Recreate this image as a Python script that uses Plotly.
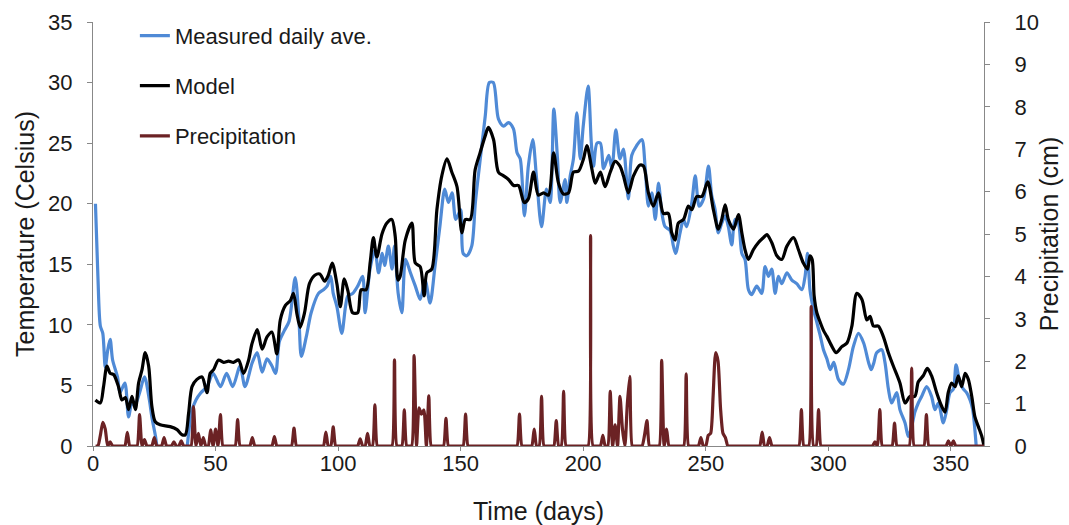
import numpy as np
import plotly.graph_objects as go

# ---- Measured daily average temperature (deg C) ----
measured_day = [1, 2, 3, 4, 5, 6, 7, 8, 10, 11, 13, 14.5, 16, 17, 19, 21, 23, 24, 25.5, 27, 30, 34, 37, 39, 40,
                42, 44, 46.5, 49, 52, 54.5, 57, 60, 62, 65, 67, 69, 71, 73, 74.5, 76, 78, 80, 82.5, 84, 85, 87, 89,
                92, 94, 95.5, 97, 98, 99.5, 101.5, 103, 104, 106, 108, 110, 111, 113, 115, 116.5, 118, 119, 120.5,
                122, 123, 124.5, 126, 127.5, 129.5, 131.5, 133.5, 135.5, 137.5, 139.5, 141.5, 143.5, 145, 146.5,
                148, 150, 151, 152.5, 154.5, 156, 158, 160, 161.7, 163.3, 165.4, 167.5, 169.5, 171.5, 173, 174.3,
                176, 177.6, 179.4, 181, 183, 185, 186.5, 188, 189.5, 190.6, 192.6, 193.3, 194.7, 196, 197.4, 198.8,
                200, 202, 203.3, 204.2, 205.6, 207, 208.3, 210.4, 211.7, 213.3, 215, 216.4, 218.4, 219.8, 221.8,
                223.9, 225.3, 226.6, 228, 229.4, 230.7, 232.1, 233.4, 235.4, 236.8, 237.7, 239.5, 240.9, 242.2,
                244.3, 245.7, 247.3, 249.1, 251.1, 252.4, 253.8, 255.1, 256.5, 257.9, 259.2, 260.6, 261.9, 263.3,
                264.7, 266, 267.4, 268.7, 270.8, 272.8, 274.2, 275.6, 276.9, 278.3, 279.6, 281, 283.1, 285.1,
                287.1, 289.2, 290.5, 291.5, 292.5, 293.9, 295.3, 296.7, 298, 299.4, 300.8, 302.2, 304.1, 306.1,
                308.2, 310.2, 312.3, 314.4, 316.4, 317.5, 318.6, 319.7, 321.8, 323.1, 324.5, 325.8, 327.9, 329.2,
                331.3, 332.6, 334, 335.3, 336.7, 338.1, 340.1, 342.1, 343.5, 344.9, 346.9, 348.3, 349.6, 351,
                352.1, 353.7, 355.1, 356.4, 357.8, 358.9, 359.8, 360.5]
measured_temp = [20.0, 14.0, 9.9, 9.3, 6.5, 7.9, 8.8, 7.1, 5.7, 4.4, 5.2, 2.4, 3.8, 3.3, 4.4, 5.7, 3.8, 2.4, 0.8,
                 -1.0, -2.0, -2.0, -1.5, 1.0, 2.7, 3.8, 4.4, 4.9, 6.0, 4.9, 6.0, 4.9, 6.6, 4.9, 6.9, 7.7, 6.1, 7.2,
                 6.6, 6.0, 8.6, 9.5, 10.3, 13.9, 10.5, 7.4, 9.0, 11.0, 12.6, 12.9, 13.2, 14.0, 12.6, 11.5, 9.3,
                 11.5, 12.4, 12.6, 13.2, 14.0, 11.0, 14.6, 16.2, 14.3, 15.9, 14.9, 16.5, 14.6, 16.5, 12.6, 11.0,
                 15.4, 14.3, 13.2, 12.1, 13.7, 11.8, 14.8, 18.1, 21.2, 20.1, 20.9, 18.7, 19.5, 15.9, 15.7, 16.5,
                 20.1, 23.7, 27.2, 30.0, 30.0, 27.0, 26.4, 26.7, 26.2, 24.2, 23.7, 19.0, 23.1, 25.3, 22.0, 18.1,
                 21.2, 20.1, 27.8, 23.7, 20.1, 22.0, 20.1, 22.3, 23.7, 27.5, 23.7, 26.4, 29.7, 25.0, 23.1, 25.0,
                 25.0, 22.9, 24.0, 22.9, 26.1, 23.7, 24.5, 20.4, 24.0, 24.8, 25.3, 22.9, 19.8, 20.9, 18.7, 21.7,
                 19.2, 18.1, 17.8, 16.5, 15.9, 17.6, 18.7, 18.1, 20.1, 22.3, 19.8, 20.4, 23.1, 20.7, 19.5, 17.6,
                 18.4, 19.0, 18.1, 16.6, 18.7, 18.4, 15.9, 15.4, 12.9, 12.5, 13.2, 12.6, 14.8, 14.0, 14.6, 12.6,
                 14.0, 13.4, 14.3, 13.7, 13.4, 12.9, 14.0, 15.9, 12.9, 11.3, 10.2, 9.1, 7.95, 7.2, 6.3, 6.9, 5.5,
                 5.1, 6.3, 8.2, 9.3, 8.5, 6.9, 6.3, 6.9, 7.7, 7.95, 6.9, 4.7, 3.55, 4.4, 3.0, 1.9, 0.8, 1.6, 2.8,
                 3.55, 4.1, 4.9, 4.1, 3.0, 3.55, 1.9, 3.0, 4.4, 4.7, 6.7, 5.2, 4.7, 4.4, 3.8, 3.0, 1.3, -0.5]

# ---- Model temperature (deg C) ----
model_day = [1, 3, 4.3, 5.7, 7, 8.4, 10.4, 11.8, 13.2, 14.5, 15.9, 17.3, 18.6, 20, 21.3, 22.7, 24, 25.4, 27.4,
             31.5, 34.3, 36.3, 37.7, 39, 40.4, 42.4, 44.5, 46.5, 47.8, 49.2, 51.2, 53.3, 55.3, 57.3, 59.4, 61.4,
             63.5, 64.8, 67, 69, 71, 73, 75, 76.4, 78.5, 80.5, 81.8, 83.2, 84.5, 86.3, 88.3, 90.5, 92.5, 94.5, 96,
             97.6, 99.5, 100.9, 102.5, 104, 105.9, 108, 109.4, 111.4, 113.1, 114.4, 115.8, 117.9, 119.9, 121.9,
             123.3, 124.4, 125.3, 127.4, 130.1, 131.5, 133.5, 135.1, 136.2, 138.2, 140.3, 142.3, 144.4, 146.4,
             148.5, 150.5, 151.9, 153.9, 155.9, 157.9, 160, 161.3, 163.4, 165.4, 167.5, 169.5, 171.6, 173.6,
             175.9, 177.6, 179.7, 181.7, 183.8, 185.8, 187.9, 189.9, 191.9, 194, 196, 198.1, 200.1, 201.5, 203.5,
             204.9, 207, 208.9, 211, 213, 215, 216.4, 218.4, 220.5, 223.2, 224.6, 226.6, 228.6, 230.7, 232.7,
             234.7, 236.1, 237.5, 238.8, 240.9, 242.9, 244.3, 246.3, 248.4, 250.8, 253.1, 255.1, 256.5, 257.9,
             259.2, 261.3, 263.3, 264.7, 266, 267.4, 269.4, 271.5, 273.5, 274.9, 276.9, 279, 281, 283.1, 285.8,
             287.8, 289.8, 291.5, 292.5, 293.4, 294.2, 295.3, 296.7, 298.1, 299.4, 301.5, 303.2, 305.5, 307.6,
             309.6, 311.6, 313.7, 315.7, 317, 318.4, 320.4, 322.4, 324.5, 326.5, 329.2, 331.3, 333.3, 335.3,
             336.7, 338.7, 340.4, 342.1, 344.2, 346.2, 347.6, 348.9, 350.3, 351.7, 353, 354.4, 355.8, 357.1,
             358.5, 359.8, 361.2, 362.6, 363.5]
model_temp = [3.8, 3.55, 4.9, 6.6, 6.0, 5.9, 4.9, 3.8, 4.0, 3.0, 4.1, 3.0, 5.2, 6.3, 7.7, 6.6, 3.3, 2.0, 1.75,
              1.6, 1.35, 0.93, 0.93, 2.7, 4.9, 5.5, 5.7, 4.4, 6.0, 6.3, 7.1, 6.9, 7.0, 6.9, 7.1, 6.0, 7.1, 8.4,
              9.6, 8.0, 9.0, 9.4, 7.6, 10.4, 11.6, 12.0, 12.6, 10.9, 9.8, 11.0, 13.4, 14.1, 14.2, 13.6, 14.1,
              15.1, 13.4, 11.5, 13.8, 12.8, 11.0, 11.0, 12.9, 12.9, 15.2, 17.2, 15.6, 17.5, 18.4, 18.7, 17.3,
              13.7, 14.0, 17.0, 18.4, 15.1, 14.8, 12.4, 14.3, 14.6, 19.5, 22.3, 23.7, 22.6, 21.4, 17.6, 18.7,
              18.7, 22.8, 24.2, 25.6, 26.3, 25.3, 22.6, 22.3, 22.0, 21.5, 21.5, 20.1, 20.4, 22.6, 20.7, 20.9,
              20.7, 24.2, 21.7, 20.8, 20.9, 22.6, 22.7, 23.7, 24.8, 22.9, 21.7, 22.6, 21.4, 22.6, 23.5, 23.1,
              22.3, 20.9, 22.3, 23.2, 23.1, 20.9, 19.8, 20.9, 19.2, 19.2, 17.6, 17.0, 18.4, 18.7, 19.8, 19.5,
              20.6, 20.6, 21.8, 19.5, 17.9, 18.7, 19.9, 18.7, 17.9, 19.1, 17.6, 16.2, 15.4, 16.2, 16.8, 17.2,
              17.45, 16.8, 15.7, 15.4, 16.5, 17.2, 16.2, 15.1, 14.6, 15.7, 15.4, 12.4, 11.0, 10.2, 9.5, 9.05,
              8.2, 7.7, 8.2, 8.5, 9.9, 12.6, 12.1, 10.4, 10.7, 9.9, 9.9, 9.05, 7.7, 6.6, 5.2, 3.55, 4.1, 4.1,
              5.3, 5.8, 6.4, 5.8, 4.4, 3.3, 2.8, 4.4, 5.2, 4.9, 5.8, 4.9, 6.0, 5.5, 4.1, 2.4, 1.6, 0.8, 0.0]

# ---- Precipitation (cm): days with rain; every other day of the year is 0 ----
rain_day = [3, 4, 5, 7, 14, 19, 21, 25, 29, 33, 36, 41, 43, 45, 48, 50, 52, 59, 65, 74, 82, 95, 98, 109, 112,
            115, 123, 127, 131, 133, 134, 135, 137, 144, 152, 174, 180, 183, 189, 192, 203, 208, 211, 213, 215,
            216, 218, 219, 225, 226, 232, 234, 242, 248, 251, 252, 253, 254, 255, 256, 257, 258, 273, 276, 289,
            293, 296, 319, 321, 327, 334, 340, 349, 351]
rain_cm = [0.25, 0.56, 0.4, 0.1, 0.32, 0.74, 0.15, 0.2, 0.2, 0.1, 0.12, 0.93, 0.3, 0.2, 0.38, 0.4, 0.74, 0.62,
           0.2, 0.22, 0.42, 0.33, 0.45, 0.17, 0.3, 0.97, 2.03, 0.85, 2.13, 0.9, 0.75, 0.85, 1.18, 0.65, 0.75,
           0.75, 0.4, 1.17, 0.6, 1.29, 4.96, 0.25, 1.29, 0.5, 1.17, 0.4, 1.0, 1.64, 0.25, 0.6, 2.02, 0.4, 1.7,
           0.2, 0.25, 0.3, 1.2, 2.2, 2.0, 0.9, 0.3, 0.2, 0.33, 0.2, 0.86, 3.29, 0.86, 0.1, 0.86, 0.54, 1.84,
           0.74, 0.12, 0.12]
year_days = np.arange(1, 365)
precip = np.zeros(len(year_days))
precip[np.array(rain_day) - 1] = rain_cm

x_ticks = [0, 50, 100, 150, 200, 250, 300, 350]

BLUE = "#4F8AD6"
BROWN = "#6B2224"
AXIS = "#888888"
FONT = "Liberation Sans, Arial, sans-serif"

fig = go.Figure()
fig.add_trace(go.Scatter(x=measured_day, y=measured_temp, name="Measured daily ave.", mode="lines",
                         line=dict(color=BLUE, width=3.2, shape="spline", smoothing=0.8), legendgroup="a"))
fig.add_trace(go.Scatter(x=model_day, y=model_temp, name="Model", mode="lines",
                         line=dict(color="black", width=3.2, shape="spline", smoothing=0.8), legendgroup="b"))
fig.add_trace(go.Scatter(x=year_days, y=precip, name="Precipitation", mode="lines", yaxis="y2",
                         line=dict(color=BROWN, width=3.2, shape="spline", smoothing=0.6), legendgroup="c"))

fig.update_layout(
    width=1069, height=525,
    margin=dict(l=93, r=85, t=22, b=79),
    paper_bgcolor="white", plot_bgcolor="white",
    font=dict(family=FONT, size=22, color="#1a1a1a"),
    showlegend=True,
    legend=dict(x=0.047, y=1.017, xanchor="left", yanchor="top", bgcolor="rgba(0,0,0,0)",
                font=dict(size=22), tracegroupgap=18.5, traceorder="grouped"),
    xaxis=dict(range=[0, 363.5], tickvals=x_ticks, showgrid=False, zeroline=False, showline=True,
               linecolor=AXIS, linewidth=1, ticks="outside", ticklen=4, tickcolor=AXIS, ticklabelstandoff=-6,
               automargin=False,
               title=dict(text="Time (days)", font=dict(size=25), standoff=27)),
    yaxis=dict(range=[0, 35], dtick=5, showgrid=False, zeroline=False, showline=True, linecolor=AXIS,
               linewidth=1, ticks="outside", ticklen=5, tickcolor=AXIS, ticklabelstandoff=10, automargin=False,
               title=dict(text="Temperature (Celsius)", font=dict(size=25), standoff=6)),
    yaxis2=dict(range=[0, 10], dtick=1, overlaying="y", side="right", showgrid=False, zeroline=False,
                showline=True, linecolor=AXIS, linewidth=1, ticks="outside", ticklen=5, tickcolor=AXIS,
                ticklabelstandoff=20, automargin=False,
                title=dict(text="Precipitation (cm)", font=dict(size=25), standoff=2)),
)

fig.write_html("out.html")
